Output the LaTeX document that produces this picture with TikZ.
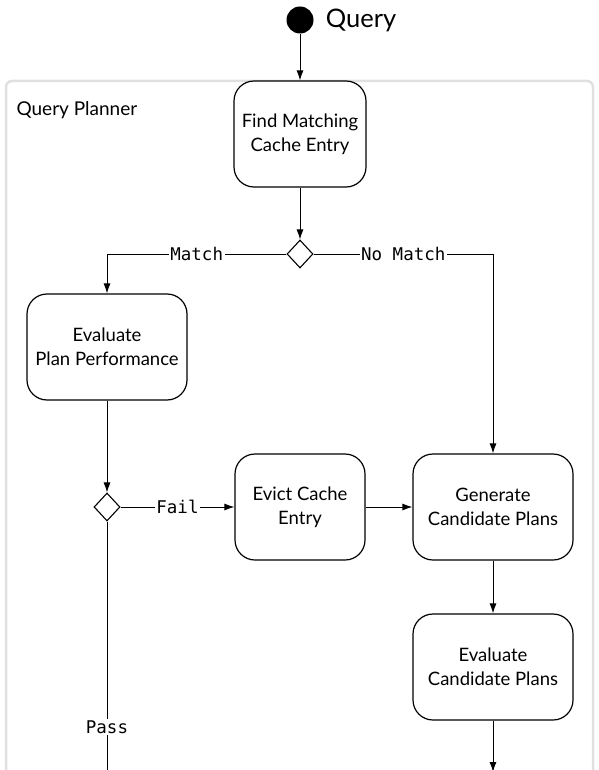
\documentclass[tikz,border=0pt]{standalone}
\usepackage{fontspec}
\setmainfont{Lato}
\newfontfamily\guardfont{DejaVu Sans Mono}
\usetikzlibrary{shapes.geometric,arrows.meta}

\tikzset{
  action/.style={draw,line width=1.2pt,rounded corners=20pt,fill=white,
    minimum height=106pt,align=center,inner sep=0pt,
    font=\fontsize{18.5}{24}\selectfont},
  branch/.style={draw,diamond,line width=1.1pt,fill=white,inner sep=0pt,
    minimum width=26pt,minimum height=28pt},
  flow/.style={line width=1pt,-{Latex[length=10pt,width=7pt]}},
  link/.style={line width=1pt},
  guard/.style={fill=white,inner sep=1.5pt,font=\guardfont\fontsize{17.5}{20}\selectfont}
}

\begin{document}
\begin{tikzpicture}[x=1pt,y=-1pt]
  \useasboundingbox (0,0) rectangle (598,770);
  \clip (0,0) rectangle (598,770);
  % swimlane
  \draw[line width=2.5pt,color=black!12,rounded corners=6pt] (6,81) rectangle (593,820);
  \node[anchor=west,font=\fontsize{19}{22}\selectfont] (lane) at (13,110) {Query Planner};

  % start
  \filldraw (300,20) node[circle,fill=black,minimum size=27pt,inner sep=0pt] (start) {};
  \node[anchor=west,inner sep=0pt,font=\fontsize{25.5}{30}\selectfont] (title) at ([xshift=12pt]start.east) {Query};

  % actions
  \node[action,minimum width=132pt] (find) at (300,134) {Find Matching\\Cache Entry};
  \node[branch] (hit) at (300,254) {};
  \node[action,minimum width=160pt] (evalplan) at (107,347) {Evaluate\\Plan Performance};
  \node[branch] (check) at (107,507) {};
  \node[action,minimum width=130pt] (evict) at (300,507) {Evict Cache\\Entry};
  \node[action,minimum width=160pt] (generate) at (493,507) {Generate\\Candidate Plans};
  \node[action,minimum width=160pt] (evalcand) at (493,667) {Evaluate\\Candidate Plans};
  \coordinate (passend) at (107,775);
  \coordinate (candend) at (493,772);

  % transitions
  \draw[flow] (start) -- (find);
  \draw[flow] (find) -- (hit);
  \draw[flow] (hit.west) -| node[guard,pos=0.25] {Match} (evalplan.north);
  \draw[flow] (hit.east) -| node[guard,pos=0.25] {No Match} (generate.north);
  \draw[flow] (evalplan) -- (check);
  \draw[flow] (check.east) -- node[guard] {Fail} (evict.west);
  \draw[flow] (evict) -- (generate);
  \draw[flow] (generate) -- (evalcand);
  \draw[flow] (evalcand) -- (candend);
  \draw[link] (check.south) -- node[guard,pos=0.81] {Pass} (passend);
\end{tikzpicture}
\end{document}
